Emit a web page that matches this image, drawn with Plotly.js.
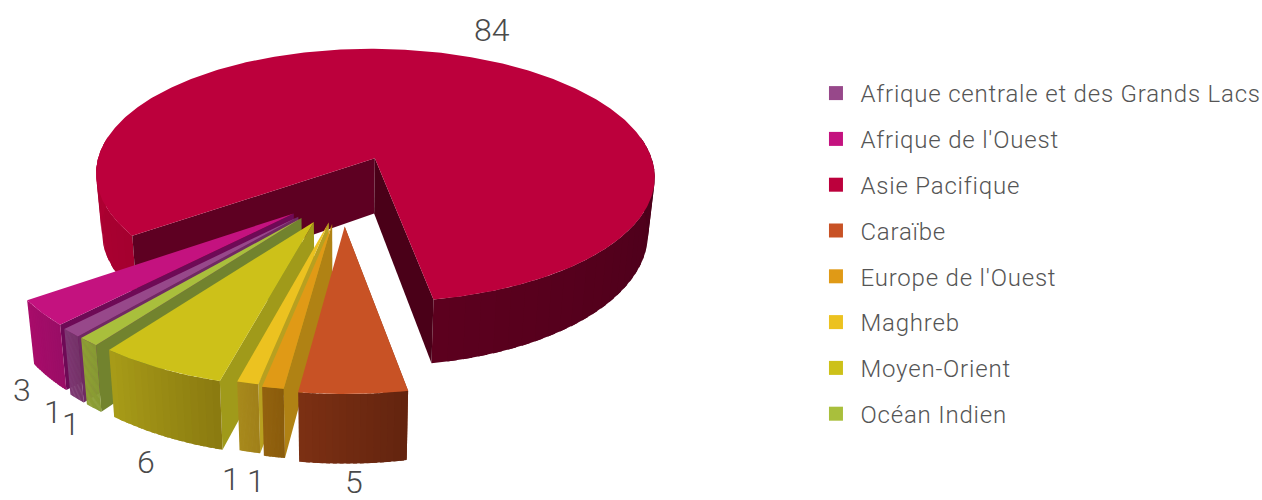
<!DOCTYPE html>
<html><head><meta charset="utf-8">
<script src="https://cdn.plot.ly/plotly-3.0.1.min.js"></script>
<style>html,body{margin:0;padding:0;background:#fff}#c{width:1262px;height:500px}</style>
</head><body><div id="c"></div>
<script>
// ---- data
const regions = ["Caraïbe","Europe de l'Ouest","Maghreb","Moyen-Orient","Océan Indien","Afrique centrale et des Grands Lacs","Afrique de l'Ouest","Asie Pacifique"];
const counts  = [5,1,1,6,1,1,3,84];
const legendOrder = ["Afrique centrale et des Grands Lacs","Afrique de l'Ouest","Asie Pacifique","Caraïbe","Europe de l'Ouest","Maghreb","Moyen-Orient","Océan Indien"];
// ---- styles, in the same order as regions
const topColors  = ["#c85225","#e09a16","#ecc220","#cdc119","#a9bf3c","#97488a","#c4127f","#bc003c"];
const cutColors  = ["#8a3a1a","#b08214","#b8a020","#a09a1a","#72832e","#6f2a63","#6e0a56","#5e0022"];
const wallFrom   = ["#7c3013","#93620f","#a88a1c","#a89c18","#8fa035","#7f3a74","#a80c6a","#a5002f"];
const wallTo     = ["#63240f","#8a5c0c","#a0801a","#8a7a10","#879a33","#753469","#9a0d66","#48001a"];
const pulls      = [0.235,0.22,0.21,0.225,0.225,0.225,0.22,0.30];
const labelX = [354,256,231,146,71,53,22,492];
const labelY = [482,481,479,462,424,412,390,30];

// ---- perspective pie model
const C=343,D=194,A=287.5,B=134,P=0.14,H=57.5,E=0.022, startDeg=10.5, smallUnit=3.65, bigLeft=-54.8, bigRight=9.7;
const rad=d=>d*Math.PI/180;
function proj(X,Y,z){const s=1/(1-P*Y);let x=A*X*s;const y=D+B*Y*s+z*H*s;x=C+x*(1-E*z);return [x,y];}
function hex(c){return [1,3,5].map(i=>parseInt(c.substr(i,2),16));}
function mix(a,b,t){const p=hex(a),q=hex(b);return 'rgb('+p.map((v,i)=>Math.round(v+(q[i]-v)*t)).join(',')+')';}
const traces=[];
function poly(pts,color){traces.push({type:'scatter',mode:'lines',x:pts.map(p=>p[0]),y:pts.map(p=>p[1]),fill:'toself',fillcolor:color,line:{color:color,width:0},hoverinfo:'skip',showlegend:false});}

// angular extents from the values
let ang=startDeg; const spans=[];
counts.forEach((v,i)=>{if(i<counts.length-1){spans.push([ang,ang-v*smallUnit]);ang-=v*smallUnit;}else{spans.push([bigLeft,bigRight-360]);}});

function pt(i,th,r){const [a,b]=spans[i];const m=rad((a+b)/2);return [pulls[i]*Math.sin(m)+r*Math.sin(rad(th)),pulls[i]*Math.cos(m)+r*Math.cos(rad(th))];}
function wall(i,a,b,n,c1,c2){for(let k=0;k<n;k++){const t0=a+(b-a)*k/n,t1=a+(b-a)*Math.min(n,k+1.6)/n,q=[];
  for(let j=0;j<=4;j++){const t=t0+(t1-t0)*j/4,o=pt(i,t,1);q.push(proj(o[0],o[1],0));}
  for(let j=4;j>=0;j--){const t=t0+(t1-t0)*j/4,o=pt(i,t,1);q.push(proj(o[0],o[1],1));}
  q.push(q[0]);poly(q,mix(c1,c2,(k+.5)/n));}}
function cut(i,th,col){const o=pt(i,th,1),a=pt(i,th,0);const q=[proj(a[0],a[1],0),proj(o[0],o[1],0),proj(o[0],o[1],1),proj(a[0],a[1],1)];q.push(q[0]);poly(q,col);}
function face(i){const [a,b]=spans[i],n=Math.ceil(Math.abs(a-b)*1.5)+2,o=pt(i,a,0),q=[proj(o[0],o[1],0)];
  for(let k=0;k<=n;k++){const e=pt(i,a+(b-a)*k/n,1);q.push(proj(e[0],e[1],0));}q.push(q[0]);poly(q,topColors[i]);}

const big=counts.length-1,[bA,bB]=spans[big];
wall(big,bB+360,100,30,"#5c001e",wallTo[big]);
wall(big,bA,-100,12,"#a5002f","#b00033");
cut(big,bA,cutColors[big]);
cut(big,bB,"#4a0018");
face(big);
for(let i=big-1;i>=0;i--){cut(i,spans[i][0],cutColors[i]);wall(i,spans[i][1],spans[i][0],16,wallFrom[i],wallTo[i]);face(i);}

legendOrder.forEach(n=>{const i=regions.indexOf(n);traces.push({type:'scatter',mode:'markers',x:[null],y:[null],name:n,legendgroup:n,marker:{symbol:'square',size:14,color:topColors[i]},hoverinfo:'skip'});});

const annotations=counts.map((v,i)=>({xref:'x',yref:'y',x:labelX[i],y:labelY[i],text:String(v),showarrow:false,xanchor:'center',yanchor:'middle',font:{family:'Roboto, sans-serif',size:32,weight:300,color:'#4a4a4a'}}));
const layout={width:1262,height:500,margin:{l:0,r:0,t:0,b:0},paper_bgcolor:'#fff',plot_bgcolor:'#fff',
 xaxis:{range:[0,1262],visible:false,fixedrange:true},yaxis:{range:[500,0],visible:false,fixedrange:true},
 showlegend:true,annotations:annotations,
 legend:{x:0.643,y:0.858,xanchor:'left',yanchor:'top',traceorder:'grouped',tracegroupgap:11.6,itemwidth:39,bgcolor:'rgba(0,0,0,0)',font:{family:'Roboto, sans-serif',size:24,weight:300,color:'#555'}}};
Plotly.newPlot('c',traces,layout,{displayModeBar:false,staticPlot:true}).then(gd=>{
  gd.querySelectorAll('.legend .scrollbox').forEach(e=>{e.removeAttribute('clip-path');e.style.clipPath='none';});
  gd.querySelectorAll('.legendtext').forEach(e=>{e.style.letterSpacing='0.8px';});
});
</script></body></html>
